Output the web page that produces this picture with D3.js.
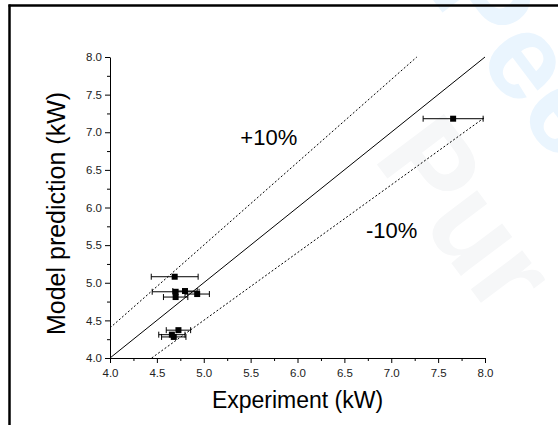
<!DOCTYPE html>
<html>
<head>
<meta charset="utf-8">
<script src="https://cdn.jsdelivr.net/npm/d3@7"></script>
<style>
  body { margin: 0; background: #fff; }
  svg { display: block; font-family: "Liberation Sans", Arial, sans-serif; }
</style>
</head>
<body>
<div id="chart"></div>
<script>
const width = 558;
const height = 425;
const margin = { top: 57, right: 73, bottom: 67, left: 110 };

// measured points: experiment (x), model prediction (y), experiment error (+/-)
const experiment = [7.66, 4.69, 4.70, 4.80, 4.93, 4.70, 4.73, 4.66, 4.68];
const prediction = [7.18, 5.08, 4.88, 4.89, 4.85, 4.81, 4.37, 4.31, 4.28];
const expError   = [0.32, 0.25, 0.25, 0.13, 0.13, 0.13, 0.13, 0.14, 0.13];

const tickValues = [4.0, 4.5, 5.0, 5.5, 6.0, 6.5, 7.0, 7.5, 8.0];
const minorTicks = [4.25, 4.75, 5.25, 5.75, 6.25, 6.75, 7.25, 7.75];

// reference lines y = k * x
const bandFactors = [1.0, 1.1, 0.9];
const bandLabels = [
  { text: "+10%", x: 5.39, y: 6.83 },
  { text: "-10%", x: 6.73, y: 5.59 }
];

let x = d3.scaleLinear()
  .domain([4, 8])
  .range([margin.left, width - margin.right]);
let y = d3.scaleLinear()
  .domain([4, 8])
  .range([height - margin.bottom, margin.top]);

let svg = d3.select("#chart")
  .append("svg")
  .attr("width", width)
  .attr("height", height)
  .attr("viewBox", [0, 0, width, height]);

// faint watermark behind the plot (runs off the page, as in the source)
svg.append("text")
  .attr("transform", "translate(427,-8) rotate(53)")
  .attr("font-size", 122)
  .attr("font-weight", "bold")
  .attr("fill", "#eaf5fe")
  .text("Peer");
svg.append("text")
  .attr("transform", "translate(372,158) rotate(53)")
  .attr("font-size", 122)
  .attr("font-weight", "bold")
  .attr("fill", "#f6f7f8")
  .text("Pur");

// page frame (left and top edges)
svg.append("line")
  .attr("stroke", "black").attr("stroke-width", 2.5)
  .attr("x1", 9.5).attr("y1", 4.5).attr("x2", 9.5).attr("y2", height);
svg.append("line")
  .attr("stroke", "black").attr("stroke-width", 2.5)
  .attr("x1", 8.5).attr("y1", 5.5).attr("x2", width).attr("y2", 5.5);

// y = x and +/-10% lines, clipped to the axes box
function bandEnds(k) {
  let x0 = Math.max(4, 4 / k), x1 = Math.min(8, 8 / k);
  return [[x0, k * x0], [x1, k * x1]];
}
svg.append("g")
  .attr("fill", "none")
  .attr("stroke", "black")
  .attr("stroke-width", 1)
  .selectAll("line")
  .data(bandFactors)
  .join("line")
    .attr("stroke-dasharray", k => k === 1 ? null : "2,2")
    .attr("x1", k => x(bandEnds(k)[0][0]))
    .attr("y1", k => y(bandEnds(k)[0][1]))
    .attr("x2", k => x(bandEnds(k)[1][0]))
    .attr("y2", k => y(bandEnds(k)[1][1]));

svg.append("g")
  .attr("font-size", 22)
  .selectAll("text")
  .data(bandLabels)
  .join("text")
    .attr("x", d => x(d.x))
    .attr("y", d => y(d.y))
    .text(d => d.text);

// axes
let xAxis = d3.axisBottom(x)
  .tickValues(tickValues)
  .tickFormat(d3.format(".1f"))
  .tickSize(5)
  .tickSizeOuter(0)
  .tickPadding(6);
let yAxis = d3.axisLeft(y)
  .tickValues(tickValues)
  .tickFormat(d3.format(".1f"))
  .tickSize(5)
  .tickSizeOuter(0)
  .tickPadding(3);

let gx = svg.append("g")
  .attr("transform", `translate(0,${height - margin.bottom})`)
  .call(xAxis);
gx.append("g")
  .call(d3.axisBottom(x).tickValues(minorTicks).tickFormat("").tickSize(3).tickSizeOuter(0))
  .select(".domain").remove();

let gy = svg.append("g")
  .attr("transform", `translate(${margin.left},0)`)
  .call(yAxis);
gy.append("g")
  .call(d3.axisLeft(y).tickValues(minorTicks).tickFormat("").tickSize(3).tickSizeOuter(0))
  .select(".domain").remove();

svg.selectAll(".tick text")
  .attr("font-size", 11.5)
  .attr("font-family", "Liberation Sans, Arial, sans-serif")
  .attr("fill", "#222");

// axis titles
svg.append("text")
  .attr("x", (margin.left + width - margin.right) / 2)
  .attr("y", 408)
  .attr("text-anchor", "middle")
  .attr("font-size", 23)
  .text("Experiment (kW)");
svg.append("text")
  .attr("transform", `translate(65,${(margin.top + height - margin.bottom) / 2 + 6}) rotate(-90)`)
  .attr("text-anchor", "middle")
  .attr("font-size", 25)
  .text("Model prediction (kW)");

// error bars and points
const points = experiment.map((e, i) => ({ x: e, y: prediction[i], err: expError[i] }));

let bars = svg.append("g")
  .attr("stroke", "black")
  .attr("stroke-width", 1)
  .selectAll("g")
  .data(points)
  .join("g");
bars.append("line")
  .attr("x1", d => x(d.x - d.err))
  .attr("x2", d => x(d.x + d.err))
  .attr("y1", d => y(d.y))
  .attr("y2", d => y(d.y));
bars.append("line")
  .attr("x1", d => x(d.x - d.err))
  .attr("x2", d => x(d.x - d.err))
  .attr("y1", d => y(d.y) - 3)
  .attr("y2", d => y(d.y) + 3);
bars.append("line")
  .attr("x1", d => x(d.x + d.err))
  .attr("x2", d => x(d.x + d.err))
  .attr("y1", d => y(d.y) - 3)
  .attr("y2", d => y(d.y) + 3);

svg.append("g")
  .selectAll("rect")
  .data(points)
  .join("rect")
    .attr("fill", "black")
    .attr("x", d => x(d.x) - 3)
    .attr("y", d => y(d.y) - 3)
    .attr("width", 6)
    .attr("height", 6);
</script>
</body>
</html>
